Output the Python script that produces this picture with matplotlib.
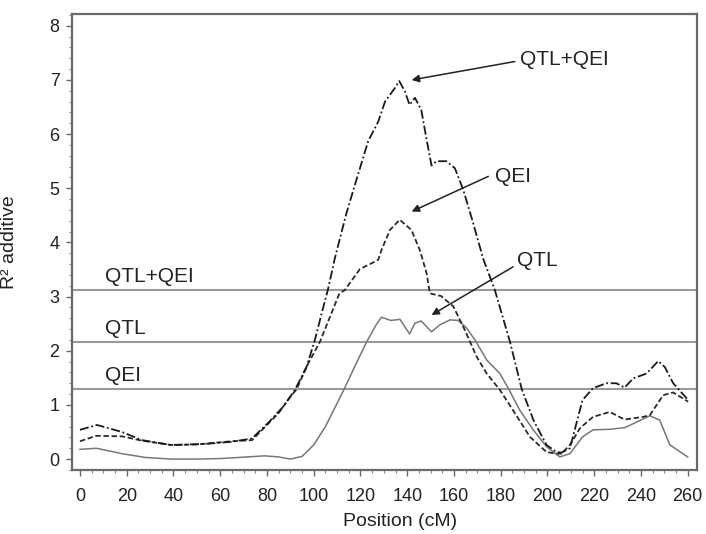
import numpy as np
import matplotlib.pyplot as plt
from matplotlib.ticker import MultipleLocator

plt.rcParams.update({
    "font.family": "Liberation Sans",
    "font.size": 13,
})

# QTL (solid)
qtl_pos = [0, 7, 18, 28, 39, 50, 60, 68, 79, 85, 90, 95, 100, 105, 110, 113, 118,
           122.6, 127, 129, 133, 136.9, 141, 143.3, 146, 150.4, 154, 158.3, 161.8,
           165.4, 169, 174, 179.6, 183.2, 188.2, 193.9, 199.6, 205.3, 209.6, 215,
           219.5, 226.7, 233, 237, 243.8, 248, 252.4, 260]
qtl_r2 = [0.18, 0.2, 0.1, 0.03, 0.0, 0.0, 0.01, 0.03, 0.06, 0.04, 0.0, 0.05, 0.26,
          0.6, 1.03, 1.29, 1.75, 2.16, 2.5, 2.62, 2.56, 2.58, 2.31, 2.51, 2.55, 2.35,
          2.48, 2.57, 2.56, 2.42, 2.2, 1.83, 1.58, 1.31, 0.9, 0.54, 0.23, 0.04, 0.1,
          0.41, 0.54, 0.55, 0.58, 0.66, 0.8, 0.72, 0.26, 0.04]

# QEI (dashed)
qei_pos = [0, 7, 18, 26.5, 39, 50, 65, 73.6, 80, 85, 90, 92.7, 97.7, 102.6, 107, 111,
           113.3, 119.8, 125, 127.6, 129, 132.6, 136.8, 141.8, 145.4, 148.3, 149.7,
           154.5, 159.7, 164.7, 169.7, 174, 179.6, 185.3, 192.5, 199.6, 203.9, 206,
           209.6, 213.9, 219.5, 226.7, 233, 241, 243.8, 249.5, 253.8, 260.2]
qei_r2 = [0.33, 0.43, 0.42, 0.34, 0.26, 0.27, 0.33, 0.35, 0.63, 0.85, 1.15, 1.29, 1.77,
          2.16, 2.63, 3.06, 3.12, 3.51, 3.62, 3.68, 3.86, 4.23, 4.42, 4.23, 3.86, 3.43,
          3.06, 3.01, 2.82, 2.38, 1.89, 1.58, 1.28, 0.9, 0.41, 0.13, 0.1, 0.1, 0.26,
          0.57, 0.78, 0.87, 0.73, 0.78, 0.81, 1.18, 1.23, 1.06]

# QTL+QEI (dash-dot)
both_pos = [0, 7.3, 18, 26.5, 39, 53.6, 65, 73.6, 81, 87, 92, 97, 100.5, 103.4, 106.2,
            109, 114, 118.3, 123.3, 127.6, 130.5, 134.7, 136.6, 139, 141, 143.3, 146,
            148.3, 150.4, 152.5, 156.8, 160.4, 164, 168.2, 172.5, 177.5, 184, 189, 194,
            199.6, 203.9, 206, 209.6, 215, 219.5, 225.2, 229.5, 233, 236.7, 242.4,
            247.4, 250.2, 253.8, 260.2]
both_r2 = [0.54, 0.63, 0.5, 0.35, 0.26, 0.28, 0.32, 0.38, 0.69, 0.97, 1.28, 1.71, 2.2,
           2.69, 3.15, 3.7, 4.54, 5.16, 5.87, 6.23, 6.6, 6.85, 6.98, 6.79, 6.54, 6.67,
           6.45, 5.9, 5.42, 5.5, 5.5, 5.37, 4.97, 4.36, 3.7, 3.12, 2.16, 1.29, 0.72,
           0.26, 0.13, 0.12, 0.2, 1.09, 1.31, 1.4, 1.4, 1.32, 1.49, 1.58, 1.81, 1.7,
           1.4, 1.09]

# significance thresholds
thr_names = ['QTL+QEI', 'QTL', 'QEI']
thr_vals = [3.12, 2.16, 1.29]

fig = plt.figure(figsize=(7.06, 5.34), dpi=100)
ax = fig.add_axes([0.102, 0.12, 0.885, 0.854])

for name, v in zip(thr_names, thr_vals):
    ax.axhline(v, color='#9a9a9a', lw=1.5, zorder=1)
    ax.text(10.7, v + 0.15, name, fontsize=15, ha='left', va='baseline', color='#222222')

ax.plot(qtl_pos, qtl_r2, color='#777777', lw=1.1, zorder=2)
ax.plot(qei_pos, qei_r2, color='#2a2a2a', lw=1.3, linestyle=(0, (3, 1.5)), zorder=3)
ax.plot(both_pos, both_r2, color='#1a1a1a', lw=1.3, linestyle=(0, (5, 1.5, 1, 1.5)), zorder=4)

# arrows with labels
arr = dict(arrowstyle='-|>', color='#222222', lw=1.1, mutation_scale=11,
           shrinkA=0, shrinkB=0)
ax.annotate('', xy=(141.9, 7.0), xytext=(186, 7.34), arrowprops=arr)
ax.text(188.2, 7.38, 'QTL+QEI', fontsize=15, va='center', ha='left', color='#222222')
ax.annotate('', xy=(141.9, 4.57), xytext=(174.7, 5.22), arrowprops=arr)
ax.text(177.5, 5.22, 'QEI', fontsize=15, va='center', ha='left', color='#222222')
ax.annotate('', xy=(150.4, 2.66), xytext=(185.3, 3.55), arrowprops=arr)
ax.text(186.9, 3.66, 'QTL', fontsize=15, va='center', ha='left', color='#222222')

ax.set_xlim(-3.4, 263.9)
ax.set_ylim(-0.2, 8.22)
ax.set_xticks(np.arange(0, 261, 20))
ax.set_yticks(np.arange(0, 9, 1))
ax.xaxis.set_minor_locator(MultipleLocator(5))
ax.yaxis.set_minor_locator(MultipleLocator(0.2))
ax.tick_params(axis='both', which='major', length=4, width=1, color='#666666',
               labelsize=13, labelcolor='#222222')
ax.tick_params(axis='both', which='minor', length=2, width=0.8, color='#888888')
ax.tick_params(axis='x', which='major', pad=9)
ax.tick_params(axis='y', which='major', pad=5)

for s in ax.spines.values():
    s.set_color('#6a6a6a')
    s.set_linewidth(1.6)

ax.set_xlabel('Position (cM)', fontsize=14, color='#222222')
ax.set_ylabel('R² additive', fontsize=14, color='#222222')
ax.xaxis.set_label_coords(0.525, -0.095)
ax.yaxis.set_label_coords(-0.086, 0.5)

plt.savefig('out.png', dpi=100)
